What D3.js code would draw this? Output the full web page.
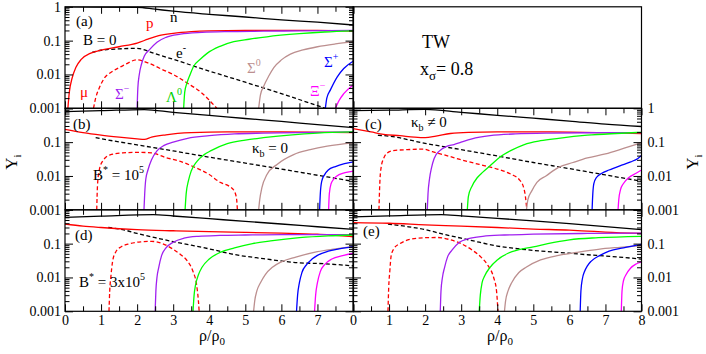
<!DOCTYPE html>
<html>
<head>
<meta charset="utf-8">
<script src="https://cdn.jsdelivr.net/npm/d3@7"></script>
<style>
  body { margin: 0; background: #fff; }
  svg, svg text, svg tspan { font-family: "Liberation Serif", "Times New Roman", serif; }
</style>
</head>
<body>
<svg id="chart" width="706" height="354" font-family="Liberation Serif"></svg>
<script>
// ---- values: [rho/rho0, Y_i] ----
// panel (a)  B = 0
let nA  = [[0,0.99],[2,0.97],[2.5,0.85],[3,0.74],[4,0.6],[5,0.5],[6,0.41],[7,0.35],[8,0.29]];
let pA  = [[0.08,0.001],[0.12,0.003],[0.2,0.008],[0.3,0.016],[0.45,0.028],[0.7,0.042],[1,0.052],[1.5,0.066],[2,0.085],[2.3,0.11],[2.6,0.14],[3,0.165],[3.5,0.185],[4,0.195],[5,0.2],[6,0.2],[7,0.2],[8,0.19]];
let eA  = [[0.75,0.045],[1,0.052],[1.5,0.057],[2,0.059],[2.5,0.041],[3,0.028],[4,0.0126],[5,0.0059],[6,0.0027],[7,0.0012],[7.22,0.001]];
let muA = [[0.79,0.001],[0.85,0.002],[0.95,0.004],[1.1,0.008],[1.3,0.012],[1.6,0.018],[2,0.027],[2.3,0.022],[2.7,0.014],[3,0.01],[3.4,0.0055],[3.8,0.0028],[4.21,0.001]];
let smA = [[2,0.001],[2.02,0.004],[2.06,0.01],[2.12,0.02],[2.2,0.035],[2.35,0.055],[2.55,0.09],[2.8,0.125],[3.2,0.155],[3.8,0.175],[4.5,0.185],[5.5,0.19],[6.5,0.195],[8,0.2]];
let lamA = [[3.29,0.001],[3.32,0.003],[3.38,0.0055],[3.47,0.01],[3.56,0.017],[3.75,0.028],[3.94,0.042],[4.3,0.068],[4.68,0.093],[5.1,0.11],[5.6,0.13],[6.5,0.16],[7.2,0.18],[8,0.195]];
let s0A = [[5.37,0.001],[5.42,0.0025],[5.51,0.0045],[5.65,0.009],[5.79,0.016],[6,0.027],[6.25,0.04],[6.6,0.053],[7,0.066],[7.5,0.08],[8,0.093]];
let spA = [[7.22,0.001],[7.26,0.002],[7.36,0.0035],[7.55,0.0085],[7.73,0.015],[8,0.025]];
let xiA = [[7.5,0.001],[7.6,0.0017],[7.73,0.0027],[8,0.005]];

// panel (b)  B* = 1e5, kappa_b = 0
let nB  = [[0,0.8],[1,0.85],[2.2,0.92],[3,0.76],[4,0.62],[5,0.5],[6,0.41],[7,0.33],[8,0.27]];
let pB  = [[0,0.24],[0.5,0.19],[1,0.16],[1.5,0.14],[2,0.125],[2.2,0.12],[2.4,0.14],[2.8,0.165],[3.5,0.19],[4.5,0.2],[6,0.2],[8,0.19]];
let eB  = [[0.85,0.135],[1,0.126],[2,0.083],[3,0.055],[4,0.036],[5,0.024],[6,0.016],[7,0.0105],[8,0.0069]];
let muB = [[0.88,0.001],[0.9,0.005],[0.95,0.015],[1.05,0.028],[1.25,0.042],[1.6,0.048],[2,0.05],[2.4,0.048],[2.8,0.035],[3.2,0.027],[3.6,0.018],[4,0.011],[4.3,0.0065],[4.55,0.005],[4.7,0.0035],[4.76,0.002],[4.78,0.001]];
let smB = [[2.19,0.001],[2.21,0.003],[2.24,0.008],[2.3,0.015],[2.4,0.03],[2.55,0.055],[2.75,0.08],[3,0.1],[3.4,0.13],[4,0.155],[4.7,0.175],[5.5,0.185],[7,0.195],[8,0.2]];
let lamB = [[3.33,0.001],[3.36,0.003],[3.42,0.007],[3.5,0.014],[3.66,0.027],[3.85,0.042],[4.05,0.056],[4.5,0.09],[5,0.115],[5.5,0.135],[6.3,0.165],[7,0.185],[8,0.2]];
let s0B = [[5.37,0.001],[5.4,0.002],[5.46,0.0045],[5.6,0.011],[5.88,0.022],[6.34,0.043],[6.8,0.06],[7.27,0.076],[8,0.095]];
let spB = [[7.06,0.001],[7.08,0.003],[7.12,0.007],[7.2,0.011],[7.3,0.015],[7.5,0.019],[7.75,0.023],[8,0.026]];
let xiB = [[7.31,0.001],[7.33,0.003],[7.38,0.006],[7.45,0.008],[7.6,0.011],[8,0.014]];

// panel (c)  B* = 1e5, kappa_b != 0
let nC  = [[0,0.85],[1,0.88],[2,0.93],[3,0.76],[4,0.62],[5,0.51],[6,0.42],[7,0.34],[8,0.29]];
let pC  = [[0,0.25],[0.5,0.2],[0.85,0.17],[1.3,0.155],[1.7,0.14],[2,0.135],[2.3,0.15],[2.7,0.18],[3.2,0.195],[4,0.2],[5.5,0.2],[7,0.19],[8,0.18]];
let eC  = [[0.69,0.16],[1,0.15],[2,0.092],[3,0.06],[4,0.039],[5,0.025],[6,0.0165],[7,0.0107],[8,0.007]];
let muC = [[0.72,0.001],[0.74,0.005],[0.78,0.018],[0.85,0.033],[0.95,0.048],[1.1,0.056],[1.5,0.06],[1.95,0.062],[2.2,0.052],[2.6,0.04],[3,0.03],[3.5,0.022],[4,0.016],[4.4,0.011],[4.6,0.008],[4.72,0.005],[4.78,0.0025],[4.82,0.001]];
let smC = [[2.06,0.001],[2.08,0.003],[2.12,0.008],[2.18,0.018],[2.25,0.033],[2.4,0.055],[2.6,0.075],[2.8,0.085],[3,0.1],[3.3,0.125],[3.8,0.155],[4.5,0.175],[5.5,0.185],[7,0.19],[8,0.19]];
let lamC = [[3.17,0.001],[3.2,0.0025],[3.3,0.005],[3.45,0.009],[3.6,0.013],[3.8,0.02],[4.07,0.036],[4.4,0.058],[4.75,0.085],[5.2,0.11],[5.7,0.13],[6.5,0.16],[7.3,0.18],[8,0.195]];
let s0C = [[4.81,0.001],[4.85,0.002],[4.95,0.0035],[5.1,0.0065],[5.35,0.01],[5.7,0.018],[6.1,0.025],[6.5,0.034],[7,0.045],[7.5,0.065],[8,0.095]];
let spC = [[6.63,0.001],[6.65,0.003],[6.68,0.006],[6.75,0.009],[6.9,0.012],[7.1,0.015],[7.4,0.02],[7.7,0.026],[7.9,0.033],[8,0.04]];
let xiC = [[7.35,0.001],[7.37,0.002],[7.42,0.004],[7.5,0.006],[7.65,0.009],[7.85,0.012],[8,0.015]];

// panel (d)  B* = 3e5, kappa_b = 0
let nD  = [[0,0.6],[1,0.65],[2.45,0.72],[3,0.655],[4,0.546],[5,0.455],[6,0.38],[7,0.316],[8,0.263]];
let pD  = [[0,0.38],[0.5,0.33],[1,0.3],[2,0.26],[3,0.24],[4,0.225],[5,0.215],[6,0.205],[7,0.19],[7.5,0.175],[8,0.16]];
let eD  = [[1.2,0.3],[1.6,0.26],[2,0.2],[2.5,0.15],[3,0.115],[3.5,0.09],[4,0.07],[4.68,0.048],[5.5,0.036],[6.2,0.029],[6.5,0.027],[7,0.026],[8,0.022]];
let muD = [[1.22,0.001],[1.24,0.004],[1.27,0.01],[1.32,0.03],[1.4,0.055],[1.55,0.08],[1.8,0.1],[2.1,0.113],[2.4,0.117],[2.7,0.1],[3,0.068],[3.2,0.048],[3.4,0.03],[3.55,0.015],[3.65,0.006],[3.7,0.002],[3.72,0.001]];
let smD = [[2.5,0.001],[2.52,0.004],[2.55,0.01],[2.6,0.02],[2.68,0.045],[2.8,0.075],[3,0.11],[3.3,0.145],[3.7,0.165],[4.3,0.175],[5,0.18],[6,0.185],[8,0.185]];
let lamD = [[3.55,0.001],[3.58,0.003],[3.62,0.006],[3.7,0.012],[3.8,0.02],[4,0.035],[4.3,0.055],[4.7,0.075],[5.2,0.1],[5.7,0.12],[6.5,0.15],[7.3,0.17],[8,0.18]];
let s0D = [[5.23,0.001],[5.26,0.002],[5.32,0.004],[5.42,0.007],[5.55,0.012],[5.75,0.02],[6,0.029],[6.4,0.04],[7,0.058],[7.5,0.07],[8,0.083]];
let spD = [[6.42,0.001],[6.45,0.003],[6.5,0.007],[6.57,0.014],[6.7,0.024],[6.85,0.035],[7,0.045],[7.3,0.06],[7.6,0.07],[8,0.082]];
let xiD = [[6.92,0.001],[6.95,0.003],[7,0.007],[7.08,0.015],[7.2,0.024],[7.4,0.035],[7.7,0.044],[8,0.052]];

// panel (e)  B* = 3e5, kappa_b != 0
let nE  = [[0,0.62],[1,0.66],[2.45,0.72],[3,0.66],[4,0.56],[5,0.47],[6,0.39],[7,0.32],[8,0.26]];
let pE  = [[0,0.42],[1,0.4],[2,0.36],[3,0.33],[4,0.3],[5,0.27],[6,0.25],[6.5,0.235],[7,0.22],[8,0.2]];
let eE  = [[0.97,0.38],[1.5,0.32],[2,0.26],[2.5,0.19],[3,0.145],[3.5,0.11],[4,0.085],[4.5,0.072],[5,0.063],[5.5,0.057],[6,0.052],[6.5,0.047],[7,0.043],[7.5,0.039],[8,0.035]];
let muE = [[0.97,0.001],[0.99,0.005],[1.02,0.015],[1.06,0.045],[1.15,0.075],[1.3,0.1],[1.6,0.135],[2,0.15],[2.35,0.152],[2.7,0.13],[3,0.1],[3.3,0.065],[3.55,0.04],[3.75,0.022],[3.9,0.01],[3.98,0.004],[4.02,0.001]];
let smE = [[2.42,0.001],[2.44,0.004],[2.48,0.01],[2.54,0.02],[2.62,0.04],[2.75,0.065],[2.95,0.11],[3.2,0.14],[3.6,0.165],[4.2,0.18],[5,0.19],[6.5,0.2],[8,0.205]];
let lamE = [[3.5,0.001],[3.53,0.003],[3.58,0.007],[3.65,0.011],[3.8,0.02],[4,0.033],[4.3,0.052],[4.6,0.066],[5,0.08],[5.4,0.1],[6,0.13],[6.8,0.15],[8,0.165]];
let s0E = [[4.2,0.001],[4.23,0.002],[4.3,0.004],[4.4,0.007],[4.6,0.014],[4.8,0.02],[5.2,0.033],[5.7,0.045],[6.2,0.055],[6.8,0.068],[7.4,0.078],[8,0.088]];
let spE = [[6.3,0.001],[6.32,0.004],[6.36,0.009],[6.42,0.015],[6.5,0.022],[6.6,0.03],[6.85,0.045],[7.1,0.06],[7.5,0.075],[8,0.095]];
let xiE = [[7.44,0.001],[7.46,0.004],[7.5,0.008],[7.57,0.012],[7.7,0.019],[7.85,0.025],[8,0.029]];

let xMajor = [0,1,2,3,4,5,6,7,8];
let yMajor = [1,0.1,0.01,0.001];

// ---- layout ----
let colX = [65, 353];
let rowY = [6.8, 108.3, 209.8];
let pw = 288.5, ph = 101.5;
let font = "Liberation Serif";

let order = ["n","e","mu","p","sm","lam","s0","sp","xi"];
let colors = {n:"#000000", p:"#ff0000", e:"#000000", mu:"#ff0000", sm:"#a020f0", lam:"#00ff00", s0:"#bc8f8f", sp:"#0000ff", xi:"#ff00ff"};

let panels = [
  {col:0, row:0, lines:{n:nA,p:pA,e:eA,mu:muA,sm:smA,lam:lamA,s0:s0A,sp:spA,xi:xiA}, yLab:"left", showOne:true, xLab:false},
  {col:0, row:1, lines:{n:nB,p:pB,e:eB,mu:muB,sm:smB,lam:lamB,s0:s0B,sp:spB,xi:xiB}, yLab:"left", showOne:false, xLab:false},
  {col:1, row:1, lines:{n:nC,p:pC,e:eC,mu:muC,sm:smC,lam:lamC,s0:s0C,sp:spC,xi:xiC}, yLab:"right", showOne:true, xLab:false},
  {col:0, row:2, lines:{n:nD,p:pD,e:eD,mu:muD,sm:smD,lam:lamD,s0:s0D,sp:spD,xi:xiD}, yLab:"left", showOne:false, xLab:"noEight"},
  {col:1, row:2, lines:{n:nE,p:pE,e:eE,mu:muE,sm:smE,lam:lamE,s0:s0E,sp:spE,xi:xiE}, yLab:"right", showOne:false, xLab:"all"}
];

let svg = d3.select("#chart");

let yMinor = [];
[0.001,0.01,0.1].forEach(d => { for (let k = 2; k <= 9; k++) yMinor.push(d*k); });
let xMinor = d3.range(0.5, 8, 1);

function fmtY(v) { return v === 1 ? "1" : String(v); }

panels.forEach((pn, i) => {
  let g = svg.append("g").attr("transform", "translate(" + colX[pn.col] + "," + rowY[pn.row] + ")");
  let x = d3.scaleLinear().domain([0, 8]).range([0, pw]);
  let y = d3.scaleLog().domain([0.001, 1]).range([ph, 0]);

  g.append("clipPath").attr("id", "clip" + i)
    .append("rect").attr("width", pw).attr("height", ph);

  let line = d3.line().x(d => x(d[0])).y(d => y(d[1])).curve(d3.curveMonotoneX);
  let lg = g.append("g").attr("clip-path", "url(#clip" + i + ")");
  order.forEach(k => {
    lg.append("path")
      .attr("d", line(pn.lines[k]))
      .attr("fill", "none")
      .attr("stroke", colors[k])
      .attr("stroke-width", 1.3)
      .attr("stroke-dasharray", (k === "e" || k === "mu") ? "4,2.5" : null);
  });

  // inward ticks on all four sides
  function addAxis(axis, tx, ty) {
    let a = g.append("g").attr("transform", "translate(" + tx + "," + ty + ")").call(axis);
    a.select(".domain").remove();
    a.attr("font-family", font).attr("font-size", 14);
    a.selectAll("line").attr("stroke", "#000");
    a.selectAll("text").attr("fill", "#000").attr("font-family", font).attr("font-size", 14);
    a.selectAll("text").filter(function () { return this.textContent === ""; }).remove();
    return a;
  }
  let leftFmt = pn.yLab === "left" ? (v => (v === 1 && !pn.showOne) ? "" : fmtY(v)) : (() => "");
  let rightFmt = pn.yLab === "right" ? (v => (v === 1 && !pn.showOne) ? "" : fmtY(v)) : (() => "");
  let botFmt = pn.xLab === "all" ? (v => String(v)) : pn.xLab === "noEight" ? (v => v === 8 ? "" : String(v)) : (() => "");

  addAxis(d3.axisLeft(y).tickValues(yMajor).tickSize(-8).tickPadding(4).tickFormat(leftFmt), 0, 0);
  addAxis(d3.axisLeft(y).tickValues(yMinor).tickSize(-4.5).tickFormat(() => ""), 0, 0);
  addAxis(d3.axisRight(y).tickValues(yMajor).tickSize(-8).tickPadding(6).tickFormat(rightFmt), pw, 0);
  addAxis(d3.axisRight(y).tickValues(yMinor).tickSize(-4.5).tickFormat(() => ""), pw, 0);
  addAxis(d3.axisTop(x).tickValues(xMajor).tickSize(-7).tickFormat(() => ""), 0, 0);
  addAxis(d3.axisTop(x).tickValues(xMinor).tickSize(-5).tickFormat(() => ""), 0, 0);
  addAxis(d3.axisBottom(x).tickValues(xMajor).tickSize(-7).tickPadding(4).tickFormat(botFmt), 0, ph);
  addAxis(d3.axisBottom(x).tickValues(xMinor).tickSize(-5).tickFormat(() => ""), 0, ph);

  g.append("rect").attr("width", pw).attr("height", ph)
    .attr("fill", "none").attr("stroke", "#000").attr("stroke-width", 1.2);
});

// empty top-right box
svg.append("rect").attr("x", colX[1]).attr("y", rowY[0]).attr("width", pw).attr("height", ph)
  .attr("fill", "none").attr("stroke", "#000").attr("stroke-width", 1.2);

// ---- text helpers: parts are strings or {t, dy, fs} for raised/lowered bits ----
function label(xp, yp, parts, col, size) {
  size = size || 15;
  let t = svg.append("text").attr("x", xp).attr("y", yp)
    .attr("font-family", font).attr("font-size", size).attr("fill", col || "#000");
  let shift = 0;
  parts.forEach(pt => {
    if (typeof pt === "string") {
      t.append("tspan").attr("dy", -shift).attr("font-size", size).text(pt);
      shift = 0;
    } else {
      t.append("tspan").attr("dy", pt.dy - shift).attr("font-size", pt.fs).text(pt.t);
      shift = pt.dy;
    }
  });
  return t;
}
let sup = s => ({t: s, dy: -7, fs: 10});
let sub = s => ({t: s, dy: 4, fs: 10});

// panel (a) annotations
label(76, 26, ["(a)"]);
label(83, 44.5, ["B = 0"]);
label(146, 28, ["p"], colors.p);
label(170, 21.5, ["n"]);
label(176, 58, ["e", sup("-")]);
label(80, 97, ["\u03bc"], colors.mu);
label(115, 99, ["\u03a3", sup("\u2212")], colors.sm);
label(166, 102, ["\u039b", sup("0")], "#00d000");
label(247, 73, ["\u03a3", sup("0")], colors.s0);
label(324, 67, ["\u03a3", sup("+")], colors.sp);
label(310, 96, ["\u039e", sup("\u2212")], colors.xi);

// panel (b)
label(73, 129, ["(b)"]);
label(252, 153, ["\u03ba", sub("b"), " = 0"]);
label(93, 180, ["B", sup("*"), " = 10", sup("5")]);

// panel (c)
label(365, 129, ["(c)"]);
label(411, 127, ["\u03ba", sub("b"), " \u2260 0"]);

// panel (d)
label(75, 240, ["(d)"]);
label(79, 287, ["B", sup("*"), " = 3x10", sup("5")]);

// panel (e)
label(363, 236, ["(e)"]);

// top-right box text
label(422, 48, ["TW"], "#000", 18);
label(420, 75, ["x", {t: "\u03c3", dy: 5, fs: 13}, "= 0.8"], "#000", 18);

// axis titles
function yTitle(xp) {
  svg.append("text").attr("transform", "translate(" + xp + ",162) rotate(-90)")
    .attr("text-anchor", "middle").attr("font-family", font).attr("font-size", 17)
    .call(t => {
      t.append("tspan").attr("font-size", 17).text("Y");
      t.append("tspan").attr("dy", 4).attr("font-size", 11).text("i");
    });
}
yTitle(17);
yTitle(698);

function xTitle(cx) {
  svg.append("text").attr("x", cx).attr("y", 341).attr("text-anchor", "middle")
    .attr("font-family", font).attr("font-size", 16)
    .call(t => {
      t.append("tspan").attr("font-size", 16).text("\u03c1/\u03c1");
      t.append("tspan").attr("dy", 4).attr("font-size", 11).text("0");
    });
}
xTitle(212);
xTitle(500);
</script>
</body>
</html>
